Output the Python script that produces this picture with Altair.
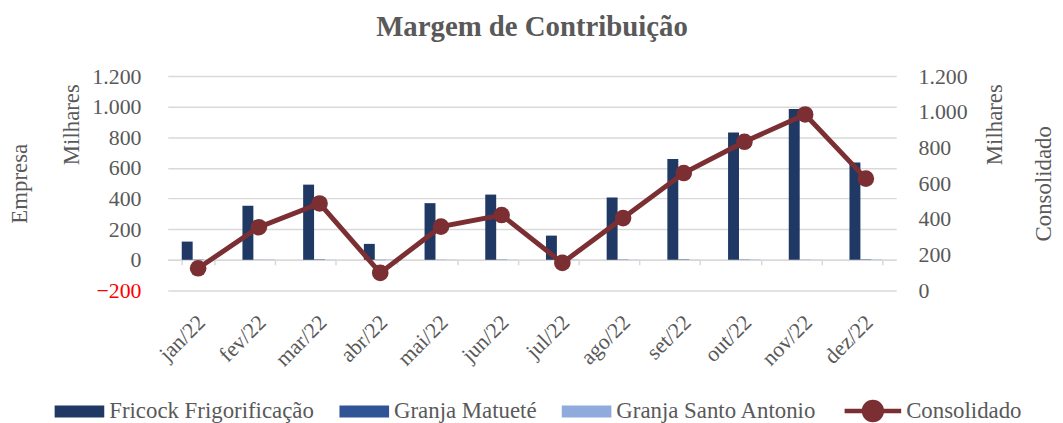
import altair as alt
import pandas as pd

months = ["jan/22", "fev/22", "mar/22", "abr/22", "mai/22", "jun/22",
          "jul/22", "ago/22", "set/22", "out/22", "nov/22", "dez/22"]
series = ["Fricock Frigorificação", "Granja Matueté", "Granja Santo Antonio"]
fricock = [119, 353, 491, 104, 370, 426, 158, 407, 658, 831, 985, 636]
matuete = [2, 1, 3, -2, 1, 2, -1, 2, 3, 2, 1, 3]
santo_antonio = [1, 2, 1, 2, 1, 1, 2, 1, 1, 2, 1, 2]
consolidado = [124, 354, 487, 98, 357, 422, 154, 405, 657, 832, 985, 626]
left_ticks = [-200, 0, 200, 400, 600, 800, 1000, 1200]
right_ticks = [0, 200, 400, 600, 800, 1000, 1200]

bar_colors = ["#1F3864", "#2F5597", "#8FAADC"]
RED = "#7B2F33"
GRAY = "#595959"
GRID = "#D9D9D9"
FONT = "Liberation Serif"

rows = []
for name, vals in zip(series, [fricock, matuete, santo_antonio]):
    for m, v in zip(months, vals):
        rows.append({"mes": m, "serie": name, "valor": v})
df_bars = pd.DataFrame(rows)
df_line = pd.DataFrame({"mes": months, "cons": consolidado, "serie": ["Consolidado"] * len(months)})
df_txt = pd.DataFrame({"t": ["Milhares"]})

fmt = "replace(format(datum.value, ',d'), ',', '.')"

x_enc = alt.X(
    "mes:N", sort=months,
    scale=alt.Scale(paddingInner=0.46, paddingOuter=0.23),
    axis=alt.Axis(title=None, labelAngle=315, labelAlign="right", labelBaseline="middle",
                  labelPadding=54, labelOffset=3, offset=-30.86, tickBand="extent", ticks=True,
                  tickSize=5, tickColor=GRID, tickWidth=1.5, domainColor=GRID, domainWidth=1.5,
                  labelFontSize=22, labelColor=GRAY, labelFont=FONT, grid=False,
                  labelOverlap=False),
)

bars = alt.Chart(df_bars).mark_bar().encode(
    x=x_enc,
    xOffset=alt.XOffset("serie:N", sort=series),
    y=alt.Y("valor:Q",
            scale=alt.Scale(domain=[-200, 1200], nice=False, zero=False),
            axis=alt.Axis(values=left_ticks, labelExpr=fmt, grid=True, gridColor=GRID, gridWidth=1.5,
                          domain=False, ticks=False, labelPadding=27, labelFontSize=22, labelFont=FONT,
                          labelColor={"condition": {"test": "datum.value < 0", "value": "#FF0000"}, "value": GRAY},
                          title="Empresa", titleFont=FONT, titleFontSize=23, titleFontWeight="normal",
                          titleColor=GRAY, titleAngle=270, titleBaseline="top", titleAlign="center",
                          titleX=-160, titleY=108)),
    color=alt.Color("serie:N", sort=series,
                    scale=alt.Scale(domain=series, range=bar_colors),
                    legend=alt.Legend(title=None, orient="none", direction="horizontal",
                                      legendX=-114, legendY=313, padding=0,
                                      symbolType="M-1,-0.24H1V0.24H-1Z", symbolSize=2500,
                                      symbolStrokeWidth=0, labelOffset=5, columnPadding=25,
                                      labelFont=FONT, labelFontSize=23, labelColor=GRAY,
                                      labelLimit=400)),
)

y_right = alt.Y("cons:Q",
                scale=alt.Scale(domain=[0, 1200], nice=False),
                axis=alt.Axis(orient="right", values=right_ticks, labelExpr=fmt, grid=False,
                              domain=False, ticks=False, labelPadding=22, labelFontSize=22,
                              labelFont=FONT, labelColor=GRAY,
                              title="Consolidado", titleFont=FONT, titleFontSize=23,
                              titleFontWeight="normal", titleColor=GRAY, titleAngle=270,
                              titleBaseline="top", titleAlign="center", titleX=137, titleY=108))

line = alt.Chart(df_line).mark_line(color=RED, strokeWidth=5).encode(x=x_enc, y=y_right)
pts = alt.Chart(df_line).mark_point(filled=True, size=280, opacity=1).encode(
    x=x_enc, y=y_right,
    color=alt.Color("serie:N",
                    scale=alt.Scale(domain=["Consolidado"], range=[RED]),
                    legend=alt.Legend(title=None, orient="none", direction="horizontal",
                                      legendX=683, legendY=310, padding=0,
                                      symbolType="M-1.14,0H1.14M0.36,0A0.36,0.36,0,1,1,-0.36,0A0.36,0.36,0,1,1,0.36,0Z",
                                      symbolSize=2500, labelOffset=6,
                                      symbolStrokeColor=RED, symbolFillColor=RED,
                                      symbolStrokeWidth=4.5,
                                      labelFont=FONT, labelFontSize=23, labelColor=GRAY,
                                      labelLimit=400)),
)

cons_layer = alt.layer(line, pts)

txt_left = alt.Chart(df_txt).mark_text(angle=270, baseline="top", align="center", fontSize=23,
                                       font=FONT, color=GRAY).encode(
    text="t:N", x=alt.value(-107), y=alt.value(49))
txt_right = alt.Chart(df_txt).mark_text(angle=270, baseline="top", align="center", fontSize=23,
                                        font=FONT, color=GRAY).encode(
    text="t:N", x=alt.value(823), y=alt.value(49))

chart = alt.layer(bars, cons_layer, txt_left, txt_right).resolve_scale(
    y="independent", color="independent"
).properties(
    width=734, height=216,
    title=alt.Title("Margem de Contribuição", font=FONT, fontSize=29, fontWeight="bold",
                    color=GRAY, anchor="middle", frame="group", offset=23),
    autosize=alt.AutoSizeParams(type="none"),
    padding={"left": 161, "top": 67, "right": 160, "bottom": 132},
).configure_view(stroke=None)

chart.save("out.html", embed_options={"renderer": "svg", "actions": False})
